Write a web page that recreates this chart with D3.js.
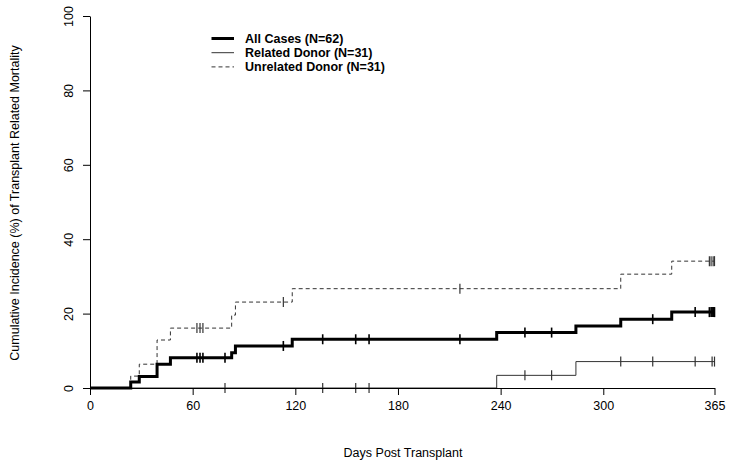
<!DOCTYPE html>
<html>
<head>
<meta charset="utf-8">
<script src="https://cdn.jsdelivr.net/npm/d3@7"></script>
<style>
  html, body { margin: 0; padding: 0; background: #fff; }
  svg { display: block; font-family: "Liberation Sans", Arial, sans-serif; }
</style>
</head>
<body>
<svg id="chart" width="730" height="469"></svg>
<script>
// ---- Data ----
const xTicks = [0, 60, 120, 180, 240, 300, 365];
const yTicks = [0, 20, 40, 60, 80, 100];

// All cases (N=62): event times (days) and cumulative incidence (%)
const allTimes = [0, 23.8, 28.8, 39.2, 47.0, 82.8, 85.0, 118.2, 237.7, 284.0, 310.2, 340.0];
const allCI    = [0, 1.6, 3.1, 6.4, 8.1, 9.5, 11.3, 13.1, 14.9, 16.7, 18.5, 20.4];
const allCensor = [62.5, 64.3, 66.0, 78.9, 113.0, 136.0, 155.3, 163.1, 216.2, 254.2, 269.8,
                   328.9, 353.7, 362.0, 363.0, 363.6, 364.2, 364.7, 365.0];

// Related donor (N=31)
const relTimes = [0, 237.7, 284.0];
const relCI    = [0, 3.4, 7.1];
const relCensor = [78.9, 136.0, 155.3, 163.1, 254.2, 269.8, 310.2, 328.9, 353.7, 363.6, 365.0];

// Unrelated donor (N=31)
const unrTimes = [0, 23.8, 28.8, 39.2, 47.0, 82.8, 85.0, 118.2, 310.2, 340.0];
const unrCI    = [0, 3.2, 6.4, 12.9, 16.1, 19.6, 23.1, 26.7, 30.6, 34.1];
const unrCensor = [62.5, 64.3, 66.0, 113.0, 216.2, 362.0, 363.0, 364.2, 365.0];

const seriesNames = ["All Cases (N=62)", "Related Donor (N=31)", "Unrelated Donor (N=31)"];

// ---- Layout ----
const svg = d3.select("#chart");
const x = d3.scaleLinear().domain([0, 365]).range([90, 714.5]);
const y = d3.scaleLinear().domain([0, 100]).range([388, 16]);

const series = [
  { name: seriesNames[1], times: relTimes, ci: relCI, censor: relCensor, width: 1, dash: null, color: "#333", tick: 1.2 },
  { name: seriesNames[2], times: unrTimes, ci: unrCI, censor: unrCensor, width: 1, dash: "4,3", color: "#333", tick: 1.2 },
  { name: seriesNames[0], times: allTimes, ci: allCI, censor: allCensor, width: 3, dash: null, color: "#000", tick: 1.6 }
];

function stepValue(times, ci, t) {
  let v = ci[0];
  for (let i = 0; i < times.length; i++) if (times[i] <= t) v = ci[i];
  return v;
}

const line = d3.line().x(d => x(d[0])).y(d => y(d[1])).curve(d3.curveStepAfter);

series.forEach(s => {
  const end = d3.max(s.censor.concat(s.times));
  const pts = s.times.map((t, i) => [t, s.ci[i]]);
  pts.push([end, s.ci[s.ci.length - 1]]);
  svg.append("path")
    .attr("d", line(pts))
    .attr("fill", "none")
    .attr("stroke", s.color)
    .attr("stroke-width", s.width)
    .attr("stroke-dasharray", s.dash)
    .attr("stroke-linejoin", "miter")
    .attr("stroke-linecap", "butt");
  svg.append("g").selectAll("line")
    .data(s.censor)
    .join("line")
    .attr("x1", d => x(d)).attr("x2", d => x(d))
    .attr("y1", d => y(stepValue(s.times, s.ci, d)) - 5)
    .attr("y2", d => y(stepValue(s.times, s.ci, d)) + 5)
    .attr("stroke", s.color)
    .attr("stroke-width", s.tick);
});

// ---- Axes ----
const xAxis = svg.append("g").attr("transform", "translate(0,388)")
  .call(d3.axisBottom(x).tickValues(xTicks).tickSize(7).tickPadding(6).tickSizeOuter(0).tickFormat(d3.format("d")));
xAxis.selectAll("text").attr("font-size", 12.5).attr("font-family", "Liberation Sans, Arial, sans-serif").attr("fill", "#000");
xAxis.select(".domain").attr("stroke", "#000");
xAxis.selectAll(".tick line").attr("stroke", "#000");

const yAxis = svg.append("g").attr("transform", "translate(90,0)")
  .call(d3.axisLeft(y).tickValues(yTicks).tickSize(7).tickSizeOuter(0).tickFormat(d3.format("d")));
yAxis.select(".domain").attr("stroke", "#000");
yAxis.selectAll(".tick line").attr("stroke", "#000");
yAxis.selectAll("text")
  .attr("font-size", 12.5)
  .attr("font-family", "Liberation Sans, Arial, sans-serif")
  .attr("fill", "#000")
  .attr("x", null).attr("dy", null)
  .attr("text-anchor", "middle")
  .attr("transform", "translate(-17.5,0) rotate(-90)");

// Axis titles
svg.append("text")
  .attr("x", 403).attr("y", 457)
  .attr("text-anchor", "middle")
  .attr("font-size", 12.5)
  .text("Days Post Transplant");

svg.append("text")
  .attr("transform", "translate(18.5,203) rotate(-90)")
  .attr("text-anchor", "middle")
  .attr("font-size", 12.5)
  .text("Cumulative Incidence (%) of Transplant Related Mortality");

// ---- Legend ----
const legendItems = [
  { name: seriesNames[0], width: 3, dash: null, color: "#000" },
  { name: seriesNames[1], width: 1, dash: null, color: "#333" },
  { name: seriesNames[2], width: 1, dash: "4,3", color: "#333" }
];
const lg = svg.append("g");
legendItems.forEach((d, i) => {
  const yy = 38.5 + i * 14.2;
  lg.append("line")
    .attr("x1", 211.5).attr("x2", 234).attr("y1", yy).attr("y2", yy)
    .attr("stroke", d.color).attr("stroke-width", d.width).attr("stroke-dasharray", d.dash);
  lg.append("text")
    .attr("x", 245).attr("y", yy + 4.5)
    .attr("font-size", 12.5).attr("font-weight", "bold")
    .text(d.name);
});
</script>
</body>
</html>
